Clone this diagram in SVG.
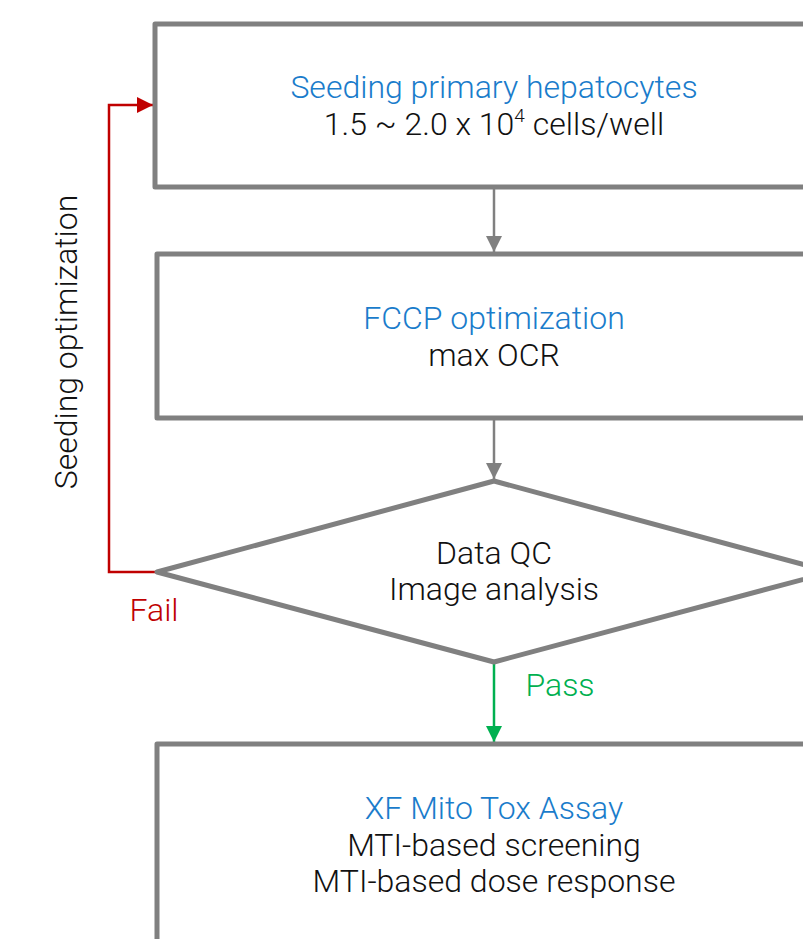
<svg xmlns="http://www.w3.org/2000/svg" width="803" height="939" viewBox="0 0 803 939">
<style>
.node{fill:#fff;stroke:#808080;stroke-width:5;stroke-linejoin:round}
text{font-family:Roboto,"Liberation Sans",sans-serif;font-weight:300;font-size:32px;text-anchor:middle}
.t{fill:#1a7ccb}
.b{fill:#111}
</style>
<defs>
<marker id="ag" viewBox="0 0 10 10" refX="10" refY="5" markerWidth="16" markerHeight="16" markerUnits="userSpaceOnUse" orient="auto"><path d="M0,0 L10,5 L0,10 z" fill="#808080"/></marker>
<marker id="agr" viewBox="0 0 10 10" refX="10" refY="5" markerWidth="16" markerHeight="16" markerUnits="userSpaceOnUse" orient="auto"><path d="M0,0 L10,5 L0,10 z" fill="#00b050"/></marker>
<marker id="ar" viewBox="0 0 10 10" refX="10" refY="5" markerWidth="16" markerHeight="16" markerUnits="userSpaceOnUse" orient="auto"><path d="M0,0 L10,5 L0,10 z" fill="#c00000"/></marker>
</defs>
<rect width="803" height="939" fill="#fff"/>
<g id="connectors" fill="none" stroke-width="2.5">
<line x1="494" y1="189" x2="494" y2="252" stroke="#808080" marker-end="url(#ag)"/>
<line x1="494" y1="420" x2="494" y2="479" stroke="#808080" marker-end="url(#ag)"/>
<line x1="494" y1="662" x2="494" y2="742" stroke="#00b050" marker-end="url(#agr)"/>
<polyline points="157,572 109,572 109,105 153,105" stroke="#c00000" marker-end="url(#ar)"/>
</g>
<g id="seeding">
<rect class="node" x="155" y="24" width="678" height="163"/>
<text x="494" y="98" class="t">Seeding primary hepatocytes</text>
<text x="494" y="135" class="b">1.5 ~ 2.0 x 10<tspan font-size="19" dy="-13">4</tspan><tspan dy="13"> cells/well</tspan></text>
</g>
<g id="fccp">
<rect class="node" x="157" y="254" width="676" height="164"/>
<text x="494" y="329" class="t">FCCP optimization</text>
<text x="494" y="366" class="b">max OCR</text>
</g>
<g id="qc">
<polygon class="node" points="157,572 494,481 831,572 494,662"/>
<text x="494" y="564" class="b">Data QC</text>
<text x="494" y="600" class="b">Image analysis</text>
</g>
<g id="assay">
<rect class="node" x="157" y="744" width="676" height="260"/>
<text x="494" y="819" class="t">XF Mito Tox Assay</text>
<text x="494" y="856" class="b">MTI-based screening</text>
<text x="494" y="892" class="b">MTI-based dose response</text>
</g>
<g id="labels">
<text x="154" y="621" fill="#c00000">Fail</text>
<text x="560" y="696" fill="#00b050">Pass</text>
<text transform="translate(77,342) rotate(-90)" class="b">Seeding optimization</text>
</g>
</svg>
